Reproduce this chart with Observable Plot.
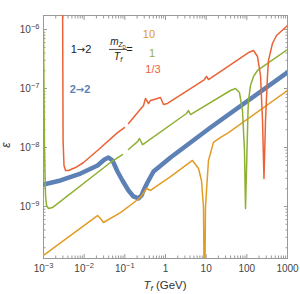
<!DOCTYPE html>
<html><head><meta charset="utf-8">
<script src="https://cdn.jsdelivr.net/npm/d3@7"></script>
<script src="https://cdn.jsdelivr.net/npm/@observablehq/plot@0.6"></script>
<style>
html,body{margin:0;padding:0;background:#fff;}
#chart svg{display:block;}
</style></head><body><div id="chart"></div>
<script>
// ---- data ----
const tOrange = [1e-3, 0.0213, 0.0252, 0.0298, 0.078, 0.243, 0.341, 0.428, 1.33, 4.61, 6.48, 7.67, 8.6, 9.1, 9.62, 10.2, 11.4, 15.1, 22.5, 33.4, 1000];
const eOrange = [1.48e-10, 7.03e-10, 6.27e-10, 5.36e-10, 7.9e-10, 1.42e-9, 2.02e-9, 1.87e-9, 3.22e-9, 6.03e-9, 4.41e-9, 2.76e-9, 9.6e-10, 1e-11, 9.6e-10, 1.87e-9, 6.03e-9, 1.22e-8, 1.48e-8, 1.73e-8, 9.25e-8];

const tGreen = [1e-3, 1.059e-3, 1.12e-3, 1.186e-3, 1.33e-3, 1.66e-3, 0.0443, 0.0874, 0.1, 0.123, 0.205, 0.229, 0.272, 0.304, 3.28, 3.68, 4.11, 39.6, 52.6, 65.9, 78.2, 87.5, 92.7, 101, 107, 110, 123, 146, 183, 1000];
const eGreen = [8.9e-7, 8.9e-9, 1.55e-9, 1.04e-9, 9.25e-10, 9.6e-10, 5.57e-9, 7.6e-9, NaN, 9.25e-9, 1.26e-8, 1.42e-8, 1.12e-8, 1.17e-8, 3.77e-8, 4.23e-8, 3.62e-8, 9.25e-8, 1.0e-7, 8.55e-8, 4.23e-8, 8.9e-9, 9.25e-10, 8.9e-9, 4.23e-8, 6.27e-8, 1.12e-7, 1.6e-7, 2.02e-7, 4.58e-7];

const tBlue = [1e-3, 2.62e-3, 8.13e-3, 0.0213, 0.0316, 0.0396, 0.0498, 0.066, 0.0874, 0.123, 0.163, 0.217, 0.257, 0.304, 0.36, 0.507, 1.33, 12.8, 1000];
const eBlue = [2.36e-9, 2.76e-9, 3.62e-9, 4.95e-9, 6.27e-9, 6.78e-9, 6.03e-9, 3.92e-9, 2.76e-9, 1.87e-9, 1.48e-9, 1.37e-9, 1.54e-9, 2.02e-9, 2.55e-9, 3.92e-9, 6.78e-9, 2.18e-8, 1.87e-7];

const tRed = [2.93e-3, 3.03e-3, 3.19e-3, 3.48e-3, 4.12e-3, 6.12e-3, 9.64e-3, 0.0213, 0.066, 0.098, 0.11, 0.123, 0.288, 0.322, 0.382, 0.428, 0.635, 0.753, 0.893, 1.12, 9.1, 10.2, 11.4, 110, 146, 183, 217, 243, 264, 288, 322, 341, 427, 536, 1000];
const eRed = [1e-5, 1.31e-8, 4.95e-9, 4.07e-9, 4.07e-9, 4.58e-9, 5.57e-9, 8.9e-9, 1.79e-8, 2.18e-8, NaN, 2.55e-8, 5.15e-8, 6.78e-8, 5.57e-8, 6.27e-8, 6.78e-8, 7.03e-8, 5.36e-8, 5.57e-8, 1.42e-7, 1.6e-7, 1.42e-7, 4.07e-7, 4.4e-7, 3.48e-7, 1.66e-7, 2.87e-8, 2.99e-9, 2.87e-8, 1.66e-7, 2.99e-7, 5.79e-7, 7.91e-7, 1.17e-6];

const xTicks = [1e-3, 1e-2, 1e-1, 1, 10, 100, 1000];
const xTickLabels = ["10^-3", "10^-2", "10^-1", "1", "10", "100", "1000"];
const yTicks = [1e-9, 1e-8, 1e-7, 1e-6];
const yTickLabels = ["10^-9", "10^-8", "10^-7", "10^-6"];

const ratioLabels = ["10", "1", "1/3"];
const colors = {blue: "#5E81B5", orange: "#E19C24", green: "#8FB032", red: "#EB6235"};

// ---- layout ----
const W = 300, H = 294, mL = 43, mR = 13, mT = 15, mB = 36;
const xDomain = [1e-3, 1e3];
const yDomain = [1.315e-10, 1.726e-6];

const toRows = (ts, es) => ts.map((t, i) => ({T: t, eps: es[i]}));
const orange = toRows(tOrange, eOrange);
const green = toRows(tGreen, eGreen);
const blue = toRows(tBlue, eBlue);
const red = toRows(tRed, eRed);

const xMinor = [], yMinor = [];
for (let d = -3; d < 3; d++) for (let m = 2; m <= 9; m++) xMinor.push(m * 10 ** d);
for (let d = -10; d < -5; d++) for (let m = 2; m <= 9; m++) {
  const v = m * 10 ** d;
  if (v >= yDomain[0] && v <= yDomain[1]) yMinor.push(v);
}

const tickCol = "#999";
const lab = (ticks, labels) => d => labels[ticks.indexOf(d)] ?? "";
const blank = () => "";

const chart = Plot.plot({
  width: W, height: H,
  marginLeft: mL, marginRight: mR, marginTop: mT, marginBottom: mB,
  x: {type: "log", domain: xDomain},
  y: {type: "log", domain: yDomain},
  style: {fontFamily: "Liberation Sans, Arial, sans-serif", fontSize: "10px", background: "#fff", color: "#444"},
  marks: [
    Plot.axisX({anchor: "bottom", ticks: xTicks, tickSize: 4, dy: -4, tickFormat: blank, label: null, stroke: tickCol}),
    Plot.axisX({anchor: "top", ticks: xTicks, tickSize: 4, dy: 4, tickFormat: blank, label: null, stroke: tickCol}),
    Plot.axisY({anchor: "left", ticks: yTicks, tickSize: 4, dx: 4, tickFormat: blank, label: null, stroke: tickCol}),
    Plot.axisY({anchor: "right", ticks: yTicks, tickSize: 4, dx: -4, tickFormat: blank, label: null, stroke: tickCol}),
    Plot.axisX({anchor: "bottom", ticks: xMinor, tickSize: 2.5, dy: -2.5, tickFormat: blank, label: null, stroke: tickCol}),
    Plot.axisX({anchor: "top", ticks: xMinor, tickSize: 2.5, dy: 2.5, tickFormat: blank, label: null, stroke: tickCol}),
    Plot.axisY({anchor: "left", ticks: yMinor, tickSize: 2.5, dx: 2.5, tickFormat: blank, label: null, stroke: tickCol}),
    Plot.axisY({anchor: "right", ticks: yMinor, tickSize: 2.5, dx: -2.5, tickFormat: blank, label: null, stroke: tickCol}),
    Plot.axisX({anchor: "bottom", ticks: xTicks, tickSize: 0, tickPadding: 6, tickFormat: lab(xTicks, xTickLabels), label: null, fill: "#444"}),
    Plot.axisY({anchor: "left", ticks: yTicks, tickSize: 0, tickPadding: 4, tickFormat: lab(yTicks, yTickLabels), label: null, fill: "#444"}),
    Plot.frame({stroke: tickCol}),
    Plot.line(blue, {x: "T", y: "eps", stroke: colors.blue, strokeWidth: 4.5, clip: true}),
    Plot.line(orange, {x: "T", y: "eps", stroke: colors.orange, strokeWidth: 1.5, clip: true}),
    Plot.line(green, {x: "T", y: "eps", stroke: colors.green, strokeWidth: 1.5, clip: true}),
    Plot.line(red, {x: "T", y: "eps", stroke: colors.red, strokeWidth: 1.5, clip: true})
  ]
});
document.getElementById("chart").appendChild(chart);

// turn "10^-n" tick labels into base + raised exponent (real text)
d3.select(chart).selectAll("text").each(function () {
  const el = d3.select(this);
  const s = this.textContent;
  if (!s.includes("^")) return;
  const [base, exp] = s.split("^");
  el.text(null);
  el.append("tspan").text(base);
  el.append("tspan").attr("font-size", 7.5).attr("dy", "-0.45em").text(exp.replace("-", "\u2212"));
});

// ---- annotations (positioned in data coordinates) ----
const xs = d3.scaleLog().domain(xDomain).range([mL, W - mR]);
const ys = d3.scaleLog().domain(yDomain).range([H - mB, mT]);
const svg = d3.select(chart);
const g = svg.append("g").attr("font-family", "Liberation Sans, Arial, sans-serif").attr("fill", "#222");
const arrowFont = "DejaVu Sans, sans-serif";

const t12 = g.append("text").attr("x", xs(8.6e-3)).attr("y", ys(3.92e-7)).attr("font-size", 11);
t12.append("tspan").text("1");
t12.append("tspan").attr("font-family", arrowFont).attr("font-size", 10).text("\u2192");
t12.append("tspan").text("2");

const fx = xs(0.0698), fy = ys(4.5e-7);
g.append("line").attr("x1", fx - 9).attr("x2", fx + 9).attr("y1", fy).attr("y2", fy).attr("stroke", "#222").attr("stroke-width", 0.8);
const num = g.append("text").attr("x", fx).attr("y", fy - 4).attr("text-anchor", "middle").attr("font-size", 10);
num.append("tspan").attr("font-style", "italic").text("m");
num.append("tspan").attr("font-style", "italic").attr("font-size", 6.5).attr("dy", 2).text("Z");
num.append("tspan").attr("font-size", 4.5).attr("dy", 1.5).text("D");
const den = g.append("text").attr("x", fx).attr("y", fy + 10.5).attr("text-anchor", "middle").attr("font-size", 10.5);
den.append("tspan").attr("font-style", "italic").text("T");
den.append("tspan").attr("font-style", "italic").attr("font-size", 7).attr("dy", 2).text("f");
g.append("text").attr("x", fx + 11.5).attr("y", fy + 3.5).attr("font-size", 11).text("=");

const ratioPos = [[0.404, 7.04e-7], [0.479, 3.35e-7], [0.507, 1.79e-7]];
const ratioCol = [colors.orange, colors.green, colors.red];
ratioLabels.forEach((s, i) => {
  g.append("text").attr("x", xs(ratioPos[i][0])).attr("y", ys(ratioPos[i][1]))
    .attr("font-size", 11).attr("fill", ratioCol[i]).text(s);
});

const t22 = g.append("text").attr("x", xs(8.13e-3)).attr("y", ys(8.22e-8)).attr("font-size", 11)
  .attr("font-weight", "bold").attr("fill", colors.blue);
t22.append("tspan").text("2");
t22.append("tspan").attr("font-family", arrowFont).attr("font-size", 10).text("\u2192");
t22.append("tspan").text("2");

const ey = ys(1.08e-8);
g.append("text").attr("transform", `translate(${mL - 33},${ey}) rotate(-90)`).attr("text-anchor", "middle")
  .attr("font-size", 12).attr("font-style", "italic").attr("fill", "#333").text("\u03B5");
const xt = g.append("text").attr("x", xs(1)).attr("y", H - 5).attr("text-anchor", "middle").attr("font-size", 11.5).attr("fill", "#333");
xt.append("tspan").attr("font-style", "italic").text("T");
xt.append("tspan").attr("font-style", "italic").attr("font-size", 8).attr("dy", 2).text("f");
xt.append("tspan").attr("dy", -2).text(" (GeV)");
</script>
</body></html>
